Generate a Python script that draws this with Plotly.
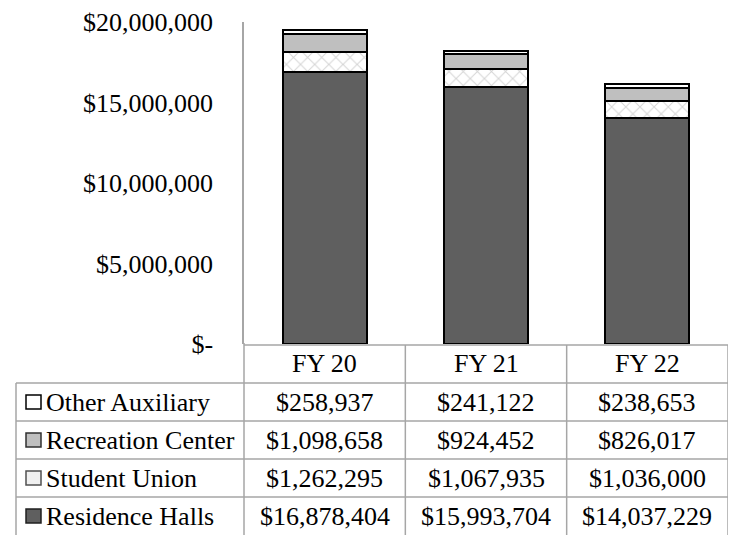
import plotly.graph_objects as go

categories = ["FY 20", "FY 21", "FY 22"]
residence_halls = [16878404, 15993704, 14037229]
student_union = [1262295, 1067935, 1036000]
recreation_center = [1098658, 924452, 826017]
other_auxiliary = [258937, 241122, 238653]
tick_values = [0, 5000000, 10000000, 15000000, 20000000]
tick_labels = ["$-", "$5,000,000", "$10,000,000", "$15,000,000", "$20,000,000"]

FONT = "Liberation Serif"
W, H = 734, 535
L, R, T, B = 244, 728, 22, 344   # plot area pixel edges
GRID = "#A6A6A6"

def px(x):
    return (x - L) / (R - L)

def py(y):
    return (B - y) / (B - T)

fig = go.Figure()
series = [
    ("Residence Halls", residence_halls, dict(color="#5F5F5F")),
    ("Student Union", student_union, dict(color="white", pattern=dict(shape="x", fgcolor="#ABABAB", bgcolor="white", size=10, solidity=0.2))),
    ("Recreation Center", recreation_center, dict(color="#BFBFBF")),
    ("Other Auxiliary", other_auxiliary, dict(color="white")),
]
for name, vals, mk in series:
    mk = dict(mk)
    mk["line"] = dict(color="black", width=2)
    fig.add_trace(go.Bar(x=list(range(len(categories))), y=vals, name=name, marker=mk, showlegend=False,
                         hoverinfo="skip"))

shapes = []
annotations = []
line = dict(color=GRID, width=1.5)
row_edges = [383, 421, 459, 497]
for y in row_edges:
    shapes.append(dict(type="line", xref="paper", yref="paper", x0=px(16), x1=px(R), y0=py(y), y1=py(y), line=line))
shapes.append(dict(type="line", xref="paper", yref="paper", x0=0, x1=1, y0=py(345), y1=py(345), line=line))
shapes.append(dict(type="line", xref="paper", yref="paper", x0=px(16), x1=px(16), y0=py(383), y1=py(H + 2), line=line))
shapes.append(dict(type="line", xref="paper", yref="paper", x0=0, x1=0, y0=py(343), y1=py(H + 2), line=line))
for xb in [0.5, 1.5, 2.5]:
    shapes.append(dict(type="line", xref="x", yref="paper", x0=xb, x1=xb, y0=py(345), y1=py(H + 2), line=line))

for i, c in enumerate(categories):
    annotations.append(dict(x=i, y=py(364), xref="x", yref="paper", text=c, showarrow=False,
                            font=dict(family=FONT, size=26, color="black"), xanchor="center", yanchor="middle"))

table_rows = [
    ("Other Auxiliary", other_auxiliary, "white", "black"),
    ("Recreation Center", recreation_center, "#BFBFBF", "#303030"),
    ("Student Union", student_union, "#F0F0F0", "#505050"),
    ("Residence Halls", residence_halls, "#5F5F5F", "#202020"),
]
for r, (name, vals, fill, border) in enumerate(table_rows):
    yc = 402 + 38 * r
    shapes.append(dict(type="rect", xref="paper", yref="paper", x0=px(26), x1=px(41), y0=py(yc - 7), y1=py(yc + 7),
                       fillcolor=fill, line=dict(color=border, width=1.5)))
    annotations.append(dict(x=px(44), y=py(yc), xref="paper", yref="paper", text=name, showarrow=False,
                            font=dict(family=FONT, size=26, color="black"), xanchor="left", yanchor="middle"))
    for i, v in enumerate(vals):
        annotations.append(dict(x=i, y=py(yc), xref="x", yref="paper", text=f"${v:,}", showarrow=False,
                                font=dict(family=FONT, size=26, color="black"), xanchor="center", yanchor="middle"))

fig.update_layout(
    width=W, height=H,
    margin=dict(l=L, r=W - R, t=T, b=H - B),
    paper_bgcolor="white", plot_bgcolor="white",
    barmode="stack", bargap=0.48,
    font=dict(family=FONT, size=26, color="black"),
    xaxis=dict(range=[-0.5, 2.5], showticklabels=False, showgrid=False, zeroline=False, showline=False, ticks=""),
    yaxis=dict(range=[0, 20000000], tickvals=tick_values, ticktext=tick_labels, showgrid=False, zeroline=False,
               showline=True, linecolor=GRID, linewidth=1.5, ticks="", ticklabelstandoff=24,
               tickfont=dict(family=FONT, size=26, color="black")),
    shapes=shapes, annotations=annotations,
)
fig.write_html("out.html", config={"displayModeBar": False},
               post_script="document.body.style.margin='0';")
